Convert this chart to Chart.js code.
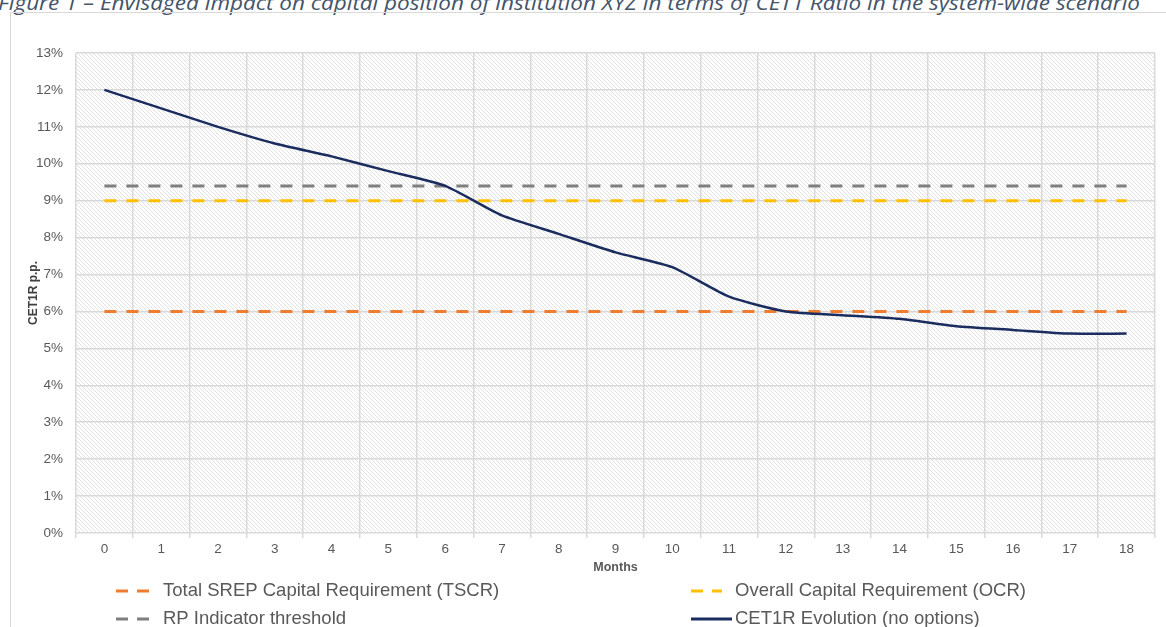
<!DOCTYPE html>
<html>
<head>
<meta charset="utf-8">
<script src="https://cdn.jsdelivr.net/npm/chart.js@4"></script>
<style>
  html, body { margin: 0; padding: 0; background: #fff; overflow: hidden; }
  #wrap { position: relative; width: 1166px; height: 627px; }
  #title { position: absolute; left: -2px; top: -11px; white-space: nowrap; font: italic 20px "Open Sans", sans-serif; color: #44546a; transform-origin: 0 0; }
  #frame { position: absolute; left: 10px; top: 12px; width: 1200px; height: 700px; border-left: 1px solid #d9d9d9; border-top: 1px solid #d9d9d9; }
  canvas { position: absolute; left: 0; top: 0; }
</style>
</head>
<body>
<div id="wrap">
  <div id="title">Figure 1 – Envisaged impact on capital position of institution XYZ in terms of CET1 Ratio in the system-wide scenario</div>
  <div id="frame"></div>
  <canvas id="chart" width="1166" height="627"></canvas>
</div>
<script>
const months = ['0','1','2','3','4','5','6','7','8','9','10','11','12','13','14','15','16','17','18'];
const cet1 = [12.0, 11.5, 11.0, 10.55, 10.2, 9.8, 9.4, 8.6, 8.1, 7.6, 7.2, 6.4, 6.0, 5.9, 5.8, 5.6, 5.5, 5.4, 5.4];
const tscrLevel = 6;
const ocrLevel = 9;
const rpLevel = 9.4;

// fit the title to the width of the figure
const title = document.getElementById('title');
const tw = title.getBoundingClientRect().width;
title.style.transform = 'scaleX(' + (1142 / tw) + ')';

// hatched plot background
const pat = document.createElement('canvas');
pat.width = 4; pat.height = 4;
const pc = pat.getContext('2d');
pc.fillStyle = '#ffffff';
pc.fillRect(0, 0, 4, 4);
pc.strokeStyle = '#e2e2e2';
pc.lineWidth = 1;
pc.beginPath();
pc.moveTo(-1, -1); pc.lineTo(5, 5);
pc.moveTo(-1, 3); pc.lineTo(1, 5);
pc.moveTo(3, -1); pc.lineTo(5, 1);
pc.stroke();

const hatch = {
  id: 'hatch',
  beforeDraw(chart) {
    const { ctx, chartArea: a } = chart;
    ctx.save();
    ctx.fillStyle = ctx.createPattern(pat, 'repeat');
    ctx.fillRect(a.left, a.top, a.right - a.left, a.bottom - a.top);
    ctx.restore();
  }
};

// two-column legend under the axis
const legend2 = {
  id: 'legend2',
  afterDraw(chart) {
    const { ctx, chartArea: a } = chart;
    const items = [
      { ds: 0, x: a.left + 40, y: a.bottom + 58, w: 34, tx: 47 },
      { ds: 1, x: a.left + 615, y: a.bottom + 58, w: 31, tx: 44 },
      { ds: 2, x: a.left + 40, y: a.bottom + 86, w: 34, tx: 47 },
      { ds: 3, x: a.left + 615, y: a.bottom + 86, w: 41, tx: 44 }
    ];
    ctx.save();
    ctx.font = '18.5px "Liberation Sans", Arial, sans-serif';
    ctx.textBaseline = 'middle';
    items.forEach(it => {
      const ds = chart.data.datasets[it.ds];
      ctx.strokeStyle = ds.borderColor;
      ctx.lineWidth = 3;
      ctx.setLineDash(ds.borderDash && ds.borderDash.length ? [12, 9] : []);
      ctx.beginPath();
      ctx.moveTo(it.x, it.y);
      ctx.lineTo(it.x + it.w, it.y);
      ctx.stroke();
      ctx.setLineDash([]);
      ctx.fillStyle = '#595959';
      ctx.fillText(ds.label, it.x + it.tx, it.y);
    });
    ctx.restore();
  }
};

new Chart(document.getElementById('chart'), {
  type: 'line',
  data: {
    labels: months,
    datasets: [
      {
        label: 'Total SREP Capital Requirement (TSCR)',
        data: months.map(() => tscrLevel),
        borderColor: '#ed7d31',
        borderWidth: 3,
        borderDash: [12, 10],
        pointRadius: 0,
        order: 3
      },
      {
        label: 'Overall Capital Requirement (OCR)',
        data: months.map(() => ocrLevel),
        borderColor: '#ffc000',
        borderWidth: 3,
        borderDash: [12, 10],
        pointRadius: 0,
        order: 2
      },
      {
        label: 'RP Indicator threshold',
        data: months.map(() => rpLevel),
        borderColor: '#7f7f7f',
        borderWidth: 3,
        borderDash: [12, 10],
        pointRadius: 0,
        order: 4
      },
      {
        label: 'CET1R Evolution (no options)',
        data: cet1,
        borderColor: '#1b2d5f',
        borderWidth: 2.5,
        tension: 0.2,
        pointRadius: 0,
        order: 1
      }
    ]
  },
  options: {
    responsive: false,
    animation: false,
    devicePixelRatio: 1,
    layout: { padding: { left: 18, top: 53, right: 11, bottom: 49 } },
    plugins: {
      legend: { display: false },
      tooltip: { enabled: false }
    },
    scales: {
      x: {
        offset: true,
        grid: { offset: true, color: '#d9d9d9', lineWidth: 1.5, tickLength: 5, tickColor: '#d9d9d9', drawTicks: true },
        border: { display: false },
        ticks: { color: '#595959', font: { family: '"Liberation Sans", Arial', size: 13.5 }, padding: 3, maxRotation: 0 },
        title: { display: true, text: 'Months', color: '#595959', font: { family: '"Liberation Sans", Arial', size: 12.5, weight: 'bold' }, padding: { top: 0, bottom: 3 } },
        afterFit(scale) { scale.height = 45; }
      },
      y: {
        min: 0,
        max: 13,
        grid: { color: '#d9d9d9', lineWidth: 1.5, drawTicks: false },
        border: { display: false },
        ticks: { stepSize: 1, color: '#595959', font: { family: '"Liberation Sans", Arial', size: 13.5 }, padding: 13, callback: v => v + '%' },
        title: { display: true, text: 'CET1R p.p.', color: '#404040', font: { family: '"Liberation Sans", Arial', size: 12, weight: 'bold' }, padding: { top: 8, bottom: 0 } },
        afterFit(scale) { scale.width = 58; }
      }
    }
  },
  plugins: [hatch, legend2]
});
</script>
</body>
</html>
